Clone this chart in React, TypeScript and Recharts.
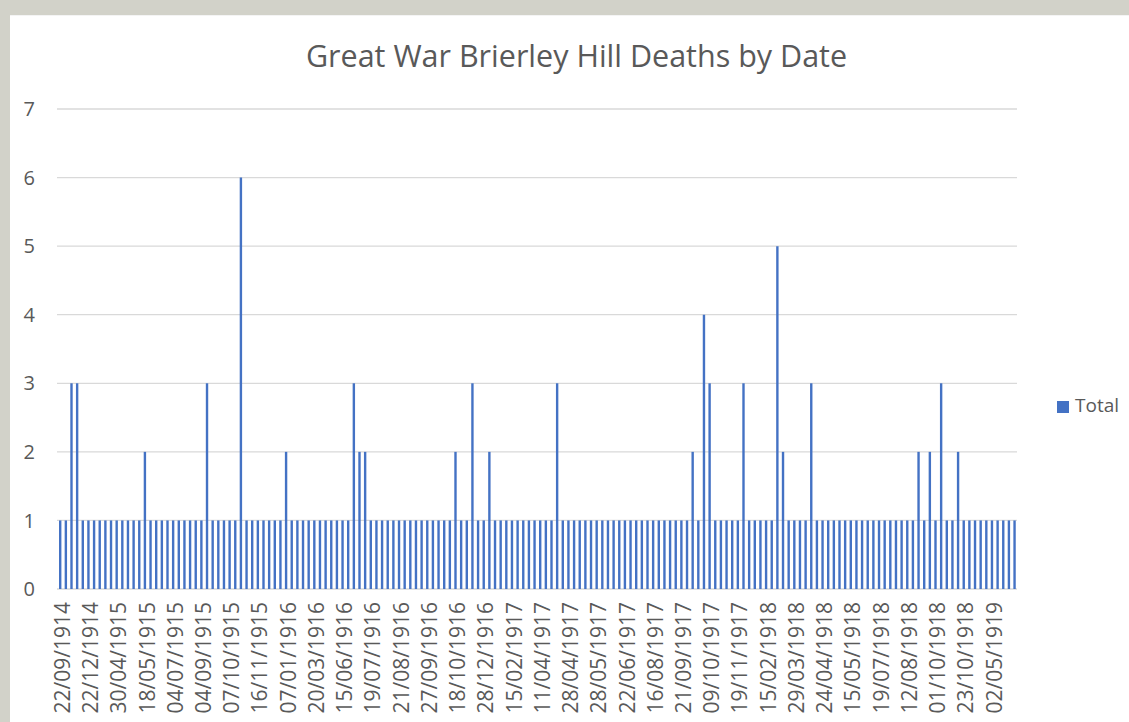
import React from 'react';
import { BarChart, Bar, XAxis, YAxis, CartesianGrid, Legend } from 'recharts';

const title = 'Great War Brierley Hill Deaths by Date';
const seriesName = 'Total';

// Visible category labels (every 5th date shown on the axis)
const tickLabels = [
  '22/09/1914', '22/12/1914', '30/04/1915', '18/05/1915', '04/07/1915',
  '04/09/1915', '07/10/1915', '16/11/1915', '07/01/1916', '20/03/1916',
  '15/06/1916', '19/07/1916', '21/08/1916', '27/09/1916', '18/10/1916',
  '28/12/1916', '15/02/1917', '11/04/1917', '28/04/1917', '28/05/1917',
  '22/06/1917', '16/08/1917', '21/09/1917', '09/10/1917', '19/11/1917',
  '15/02/1918', '29/03/1918', '24/04/1918', '15/05/1918', '19/07/1918',
  '12/08/1918', '01/10/1918', '23/10/1918', '02/05/1919',
];

// Deaths per date (170 dates, in order)
const totals = [
  1, 1, 3, 3, 1, 1, 1, 1, 1, 1,
  1, 1, 1, 1, 1, 2, 1, 1, 1, 1,
  1, 1, 1, 1, 1, 1, 3, 1, 1, 1,
  1, 1, 6, 1, 1, 1, 1, 1, 1, 1,
  2, 1, 1, 1, 1, 1, 1, 1, 1, 1,
  1, 1, 3, 2, 2, 1, 1, 1, 1, 1,
  1, 1, 1, 1, 1, 1, 1, 1, 1, 1,
  2, 1, 1, 3, 1, 1, 2, 1, 1, 1,
  1, 1, 1, 1, 1, 1, 1, 1, 3, 1,
  1, 1, 1, 1, 1, 1, 1, 1, 1, 1,
  1, 1, 1, 1, 1, 1, 1, 1, 1, 1,
  1, 1, 2, 1, 4, 3, 1, 1, 1, 1,
  1, 3, 1, 1, 1, 1, 1, 5, 2, 1,
  1, 1, 1, 3, 1, 1, 1, 1, 1, 1,
  1, 1, 1, 1, 1, 1, 1, 1, 1, 1,
  1, 1, 2, 1, 2, 1, 3, 1, 1, 2,
  1, 1, 1, 1, 1, 1, 1, 1, 1, 1,
];

const yTicks = [0, 1, 2, 3, 4, 5, 6, 7];

const LABEL_EVERY = 5;
const data = totals.map((v, i) => ({ idx: i, Total: v }));

const FONT = '"Open Sans", sans-serif';
const TEXT = '#595959';

const XTick = (props: any) => {
  const { x, y, payload } = props;
  const label = tickLabels[Math.floor(payload.value / LABEL_EVERY)] ?? '';
  const tx = x + 2;
  const ty = y + 13;
  return (
    <text
      x={tx}
      y={ty}
      transform={`rotate(-90 ${tx} ${ty})`}
      textAnchor="end"
      dominantBaseline="central"
      fill={TEXT}
      fontSize={21}
      fontFamily={FONT}
    >
      {label}
    </text>
  );
};

export default function App() {
  return (
    <div style={{ position: 'absolute', left: 0, top: 0, width: 1129, height: 722, background: '#d2d2c9', overflow: 'hidden' }}>
      <div style={{ position: 'absolute', left: 10, top: 15, width: 1119, height: 707, background: '#ffffff', borderTop: '1px solid #f4f4f4' }} />
      <div
        style={{
          position: 'absolute', left: 0, top: 35, width: 1153, textAlign: 'center',
          fontFamily: FONT, fontSize: 30.5, color: TEXT, lineHeight: '40px',
        }}
      >
        {title}
      </div>
      <div style={{ position: 'absolute', left: 0, top: 0 }}>
        <BarChart
          width={1129}
          height={722}
          data={data}
          margin={{ top: 109, right: 112, bottom: 8, left: 17 }}
        >
          <CartesianGrid vertical={false} stroke="#d9d9d9" strokeWidth={1.3} />
          <YAxis
            domain={[0, 7]}
            ticks={yTicks}
            width={40}
            axisLine={false}
            tickLine={false}
            tickSize={0}
            tickMargin={22}
            tick={{ fill: TEXT, fontSize: 20, fontFamily: FONT }}
          />
          <XAxis
            dataKey="idx"
            height={125}
            interval={LABEL_EVERY - 1}
            axisLine={false}
            tickLine={false}
            tickSize={0}
            tickMargin={0}
            tick={<XTick />}
          />
          <Legend
            layout="horizontal"
            verticalAlign="middle"
            align="center"
            iconType="square"
            iconSize={12}
            wrapperStyle={{ left: 1057, top: 392, width: 'auto', fontFamily: FONT, fontSize: 19 }}
            formatter={(value: string) => <span style={{ color: TEXT, marginLeft: 2 }}>{value}</span>}
          />
          <Bar dataKey="Total" name={seriesName} fill="#4472C4" barSize={2.4} isAnimationActive={false} />
        </BarChart>
      </div>
    </div>
  );
}
